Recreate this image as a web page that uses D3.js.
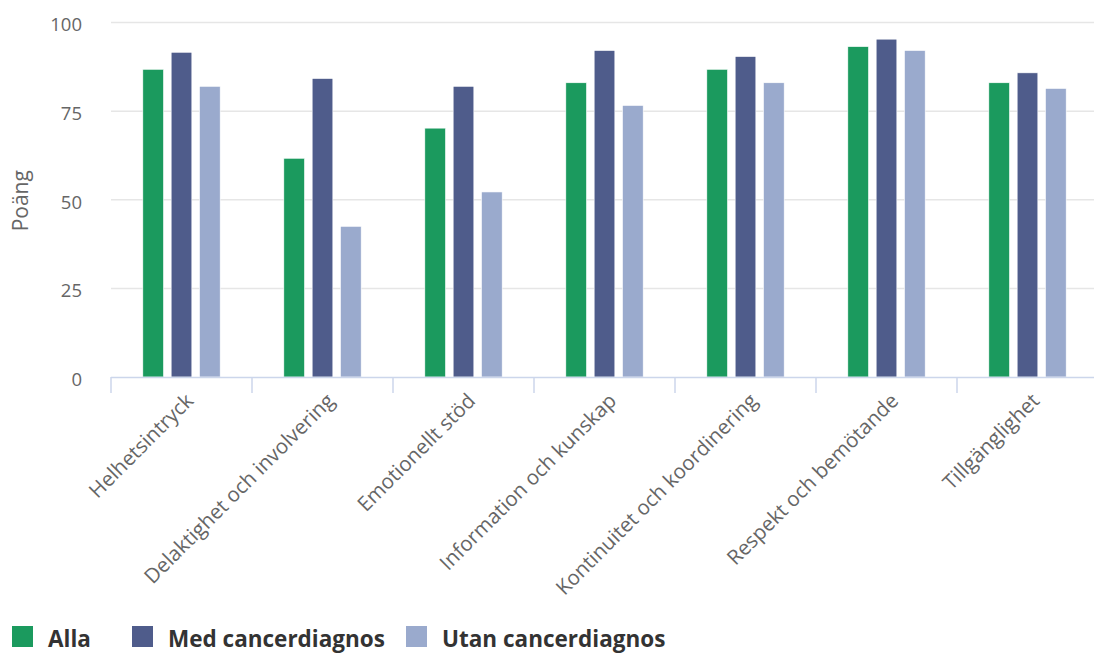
<!DOCTYPE html>
<html>
<head>
<meta charset="utf-8">
<script src="https://cdn.jsdelivr.net/npm/d3@7"></script>
<style>
  html, body { margin: 0; padding: 0; background: #ffffff; }
  svg { display: block; font-family: "Open Sans", "Noto Sans", sans-serif; }
</style>
</head>
<body>
<svg id="chart" width="1094" height="653"></svg>
<script>
// Patientenkät: poäng per dimension
const categories = [
  "Helhetsintryck",
  "Delaktighet och involvering",
  "Emotionellt stöd",
  "Information och kunskap",
  "Kontinuitet och koordinering",
  "Respekt och bemötande",
  "Tillgänglighet"
];
const seriesNames = ["Alla", "Med cancerdiagnos", "Utan cancerdiagnos"];
const alla  = [86.8, 61.7, 70.2, 83.0, 86.8, 93.2, 83.0];
const med   = [91.6, 84.2, 82.0, 92.1, 90.4, 95.3, 85.8];
const utan  = [82.0, 42.5, 52.2, 76.6, 83.0, 92.1, 81.4];
const yTicks = [0, 25, 50, 75, 100];
const yTitle = "Poäng";

const colors = ["#1b9a5e", "#4f5c8b", "#9aaacd"];
const values = [alla, med, utan];

const svg = d3.select("#chart");
const plot = { left: 111, right: 1098, top: 22.5, bottom: 377 };

const x0 = d3.scaleBand().domain(categories).range([plot.left, plot.right]).padding(0);
const groupW = 85;
const x1 = d3.scaleBand().domain(seriesNames)
  .range([-groupW / 2, groupW / 2]).paddingInner(0.27).paddingOuter(0.135);
const y = d3.scaleLinear().domain([0, 100]).range([plot.bottom, plot.top]);

// horizontal grid lines
svg.append("g")
  .selectAll("line")
  .data(yTicks.filter(d => d > 0))
  .join("line")
  .attr("x1", plot.left).attr("x2", 1094)
  .attr("y1", d => y(d)).attr("y2", d => y(d))
  .attr("stroke", "#e6e6e6").attr("stroke-width", 1.5);

// y axis labels
const yAxis = d3.axisLeft(y).tickValues(yTicks).tickSize(0).tickPadding(0);
svg.append("g")
  .attr("transform", `translate(82,0)`)
  .call(yAxis)
  .call(g => g.select(".domain").remove())
  .call(g => g.selectAll("text")
    .attr("fill", "#666666")
    .attr("font-size", "18.5px")
    .attr("font-family", "\"Open Sans\", sans-serif")
    .attr("dy", "0.45em"));

// y axis title
svg.append("text")
  .attr("transform", `translate(28,${(plot.top + plot.bottom) / 2 + 1}) rotate(-90)`)
  .attr("text-anchor", "middle")
  .attr("fill", "#666666")
  .attr("font-size", "21px")
  .text(yTitle);

// bars
const groups = svg.append("g").selectAll("g")
  .data(categories)
  .join("g")
  .attr("transform", d => `translate(${x0(d) + x0.bandwidth() / 2},0)`);

groups.selectAll("rect")
  .data((c, i) => seriesNames.map((s, k) => ({ s, v: values[k][i], k })))
  .join("rect")
  .attr("x", d => x1(d.s))
  .attr("width", x1.bandwidth())
  .attr("y", d => y(d.v))
  .attr("height", d => y(0) - y(d.v))
  .attr("fill", d => colors[d.k])
  .attr("stroke", "#ffffff")
  .attr("stroke-width", 0.6);

// x axis line and category boundary ticks
svg.append("line")
  .attr("x1", plot.left).attr("x2", 1094)
  .attr("y1", plot.bottom + 0.5).attr("y2", plot.bottom + 0.5)
  .attr("stroke", "#ccd6eb").attr("stroke-width", 1.5);

svg.append("g").selectAll("line")
  .data(categories)
  .join("line")
  .attr("x1", d => x0(d)).attr("x2", d => x0(d))
  .attr("y1", plot.bottom).attr("y2", plot.bottom + 16)
  .attr("stroke", "#ccd6eb").attr("stroke-width", 1.5);

// rotated category labels
svg.append("g").selectAll("text")
  .data(categories)
  .join("text")
  .attr("transform", d => `translate(${x0(d) + x0.bandwidth() / 2 + 8},${plot.bottom + 20}) rotate(-45)`)
  .attr("text-anchor", "end")
  .attr("dy", "0.35em")
  .attr("fill", "#666666")
  .attr("font-size", "20.5px")
  .text(d => d);

// legend
const legendX = [12, 132, 406];
const legend = svg.append("g").selectAll("g")
  .data(seriesNames)
  .join("g")
  .attr("transform", (d, i) => `translate(${legendX[i]},626)`);
legend.append("rect")
  .attr("width", 21).attr("height", 21)
  .attr("fill", (d, i) => colors[i]);
legend.append("text")
  .attr("x", 36).attr("y", 20.5)
  .attr("fill", "#333333")
  .attr("font-size", "22.5px")
  .attr("font-weight", "bold")
  .text(d => d);
</script>
</body>
</html>
